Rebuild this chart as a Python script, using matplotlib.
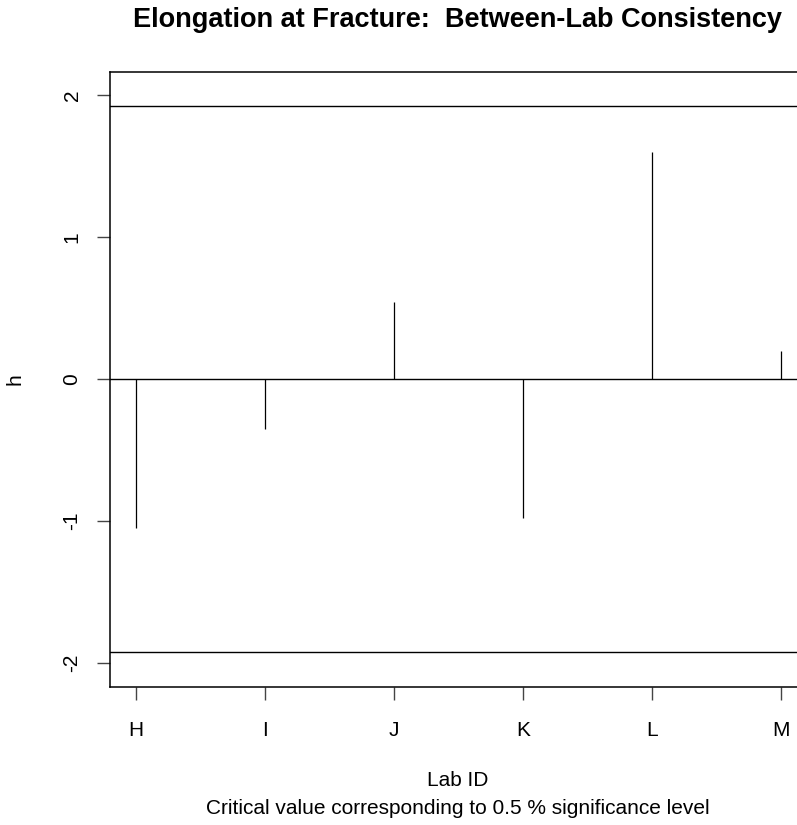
import matplotlib
matplotlib.use("Agg")
import matplotlib.pyplot as plt

labs = ["H", "I", "J", "K", "L", "M"]
h_values = [-1.05, -0.35, 0.54, -0.98, 1.60, 0.20]
critical = 1.92
yticks = [-2, -1, 0, 1, 2]
ytick_labels = ["-2", "-1", "0", "1", "2"]

plt.rcParams['font.family'] = ['Liberation Sans', 'DejaVu Sans']

W, H = 797, 825
fig = plt.figure(figsize=(W / 100, H / 100), dpi=100)
ax = fig.add_axes([110 / W, (H - 687) / H, (807 - 110) / W, (687 - 72) / H])

x = list(range(1, len(labs) + 1))
ax.vlines(x, 0, h_values, colors="black", linewidth=0.9)
ax.axhline(0, color="black", linewidth=1.0)
ax.axhline(critical, color="black", linewidth=1.0)
ax.axhline(-critical, color="black", linewidth=1.0)

ax.set_xlim(0.8, 6.2)
ax.set_ylim(-2.169, 2.162)
ax.set_xticks(x)
ax.set_xticklabels(labs)
ax.set_yticks(yticks)
ax.set_yticklabels(ytick_labels, rotation=90, va="center")
ax.tick_params(axis="both", length=9.5, width=1.0, color="#444444", labelsize=15)
ax.tick_params(axis="x", pad=15)
ax.tick_params(axis="y", pad=11)
for s in ax.spines.values():
    s.set_linewidth(1.1)

fig.text(458 / W, 1 - 20 / H, "Elongation at Fracture:  Between-Lab Consistency",
         ha="center", va="center", fontsize=19.5, fontweight="bold")
fig.text(458 / W, 1 - 781 / H, "Lab ID", ha="center", va="center", fontsize=15)
fig.text(458 / W, 1 - 809 / H, "Critical value corresponding to 0.5 % significance level",
         ha="center", va="center", fontsize=15)
fig.text(15 / W, 1 - 379 / H, "h", ha="center", va="center", rotation=90, fontsize=15)

fig.savefig("out.png", dpi=100)
